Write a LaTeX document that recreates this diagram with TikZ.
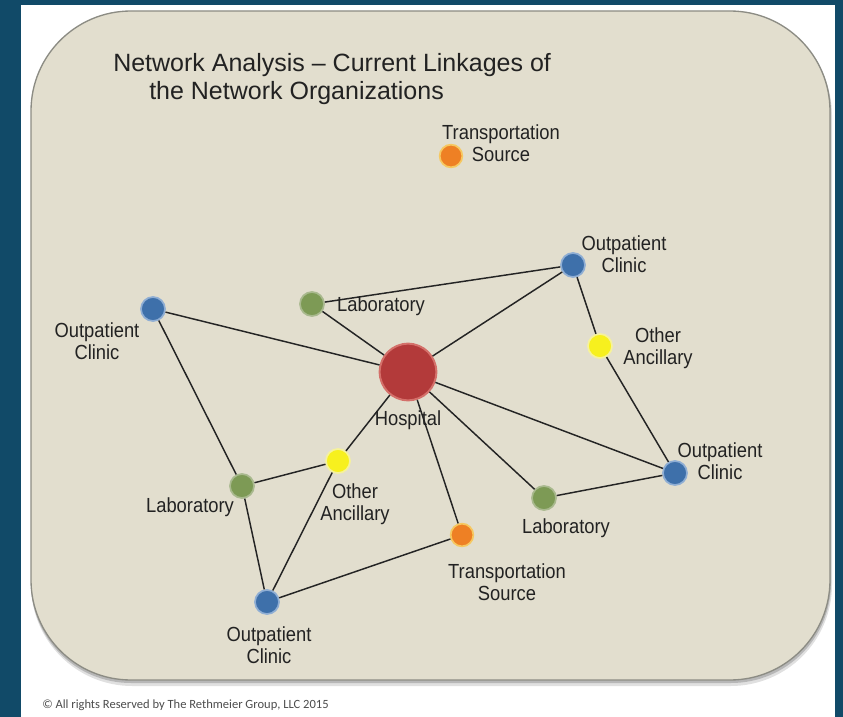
\documentclass[tikz,border=0pt]{standalone}
\usepackage{fontspec}
\setmainfont{Liberation Sans}
\newfontfamily\lblfont[FakeStretch=0.9]{Liberation Sans}
\newfontfamily\cpfont{Carlito}
\definecolor{frameblue}{HTML}{114A68}
\definecolor{panelfill}{HTML}{E2DECE}
\definecolor{panelline}{HTML}{8C8C84}
\definecolor{txt}{HTML}{222222}
\definecolor{edgecol}{HTML}{242424}
\definecolor{cblue}{HTML}{3E70AA}
\definecolor{cbluering}{HTML}{8FAED4}
\definecolor{cgreen}{HTML}{7D9A55}
\definecolor{cgreenring}{HTML}{A9B98E}
\definecolor{cyellow}{HTML}{F7F01E}
\definecolor{cyellowring}{HTML}{F6F29A}
\definecolor{corange}{HTML}{EE8024}
\definecolor{corangering}{HTML}{F6C860}
\definecolor{cred}{HTML}{B33A3A}
\definecolor{credring}{HTML}{D4706A}
\begin{document}
\begin{tikzpicture}[x=0.75pt,y=-0.75pt,
  dot/.style={circle,inner sep=0pt,minimum size=18pt,line width=1.3pt},
  bluedot/.style={dot,fill=cblue,draw=cbluering},
  greendot/.style={dot,fill=cgreen,draw=cgreenring},
  yellowdot/.style={dot,fill=cyellow,draw=cyellowring},
  orangedot/.style={dot,fill=corange,draw=corangering,minimum size=17pt},
  hospdot/.style={circle,inner sep=0pt,minimum size=42.5pt,fill=cred,draw=credring,line width=1.5pt},
  lbl/.style={text=txt,align=center,inner sep=0pt,font=\lblfont\fontsize{15.3}{16.5}\selectfont},
  ttl/.style={text=txt,inner sep=0pt,anchor=base west,font=\fontsize{18.75}{22}\selectfont},
  link/.style={draw=edgecol,line width=1.1pt}]
\useasboundingbox (0,0) rectangle (843,717);
\fill[frameblue] (0,0) rectangle (843,717);
\fill[white] (21,5) rectangle (835,717);
% shadow
\fill[black,opacity=0.12,rounded corners=76pt] (31,14) rectangle (832,686);
\fill[black,opacity=0.18,rounded corners=75pt] (31,12) rectangle (831,683);
% panel
\filldraw[fill=panelfill,draw=panelline,line width=1pt,rounded corners=75pt] (31,11) rectangle (830,680);

% title
\node[ttl] (t1) at (113,72) {Network Analysis – Current Linkages of};
\node[ttl] (t2) at (149,100) {the Network Organizations};

% nodes
\node[hospdot] (hosp) at (408,372) {};
\node[bluedot] (oc1) at (153,309) {};
\node[bluedot] (oc2) at (267,602) {};
\node[bluedot] (oc3) at (573,265) {};
\node[bluedot] (oc4) at (675,473) {};
\node[greendot] (lab1) at (242,486) {};
\node[greendot] (lab2) at (312,304) {};
\node[greendot] (lab3) at (544,498) {};
\node[yellowdot] (oa1) at (338,461) {};
\node[yellowdot] (oa2) at (600,346) {};
\node[orangedot] (tr1) at (451,156) {};
\node[orangedot] (tr2) at (462,535) {};

% edges
\draw[link] (oc1) -- (hosp);
\draw[link] (oc1) -- (lab1);
\draw[link] (lab1) -- (oa1);
\draw[link] (lab1) -- (oc2);
\draw[link] (oa1) -- (hosp);
\draw[link] (oa1) -- (oc2);
\draw[link] (oc2) -- (tr2);
\draw[link] (tr2) -- (hosp);
\draw[link] (hosp) -- (lab3);
\draw[link] (hosp) -- (oc4);
\draw[link] (lab3) -- (oc4);
\draw[link] (oc4) -- (oa2);
\draw[link] (oa2) -- (oc3);
\draw[link] (oc3) -- (lab2);
\draw[link] (oc3) -- (hosp);
\draw[link] (lab2) -- (hosp);

% labels
\node[lbl] (lhosp) at (408,420) {Hospital};
\node[lbl] (loc1) at (97,341) {Outpatient\\Clinic};
\node[lbl] (loc2) at (269,645) {Outpatient\\Clinic};
\node[lbl] (loc3) at (624,254) {Outpatient\\Clinic};
\node[lbl] (loc4) at (720,461) {Outpatient\\Clinic};
\node[lbl] (llab1) at (190,507) {Laboratory};
\node[lbl] (llab2) at (381,306) {Laboratory};
\node[lbl] (llab3) at (566,528) {Laboratory};
\node[lbl] (loa1) at (355,504) {Other\\Ancillary};
\node[lbl] (loa2) at (658,348) {Other\\Ancillary};
\node[lbl] (ltr1) at (501,143) {Transportation\\Source};
\node[lbl] (ltr2) at (507,582) {Transportation\\Source};

% copyright
\node[anchor=west,inner sep=0pt,text=black!70,font=\cpfont\fontsize{9.4}{11}\selectfont] (copy) at (42,705) {© All rights Reserved by The Rethmeier Group, LLC 2015};
\end{tikzpicture}
\end{document}
